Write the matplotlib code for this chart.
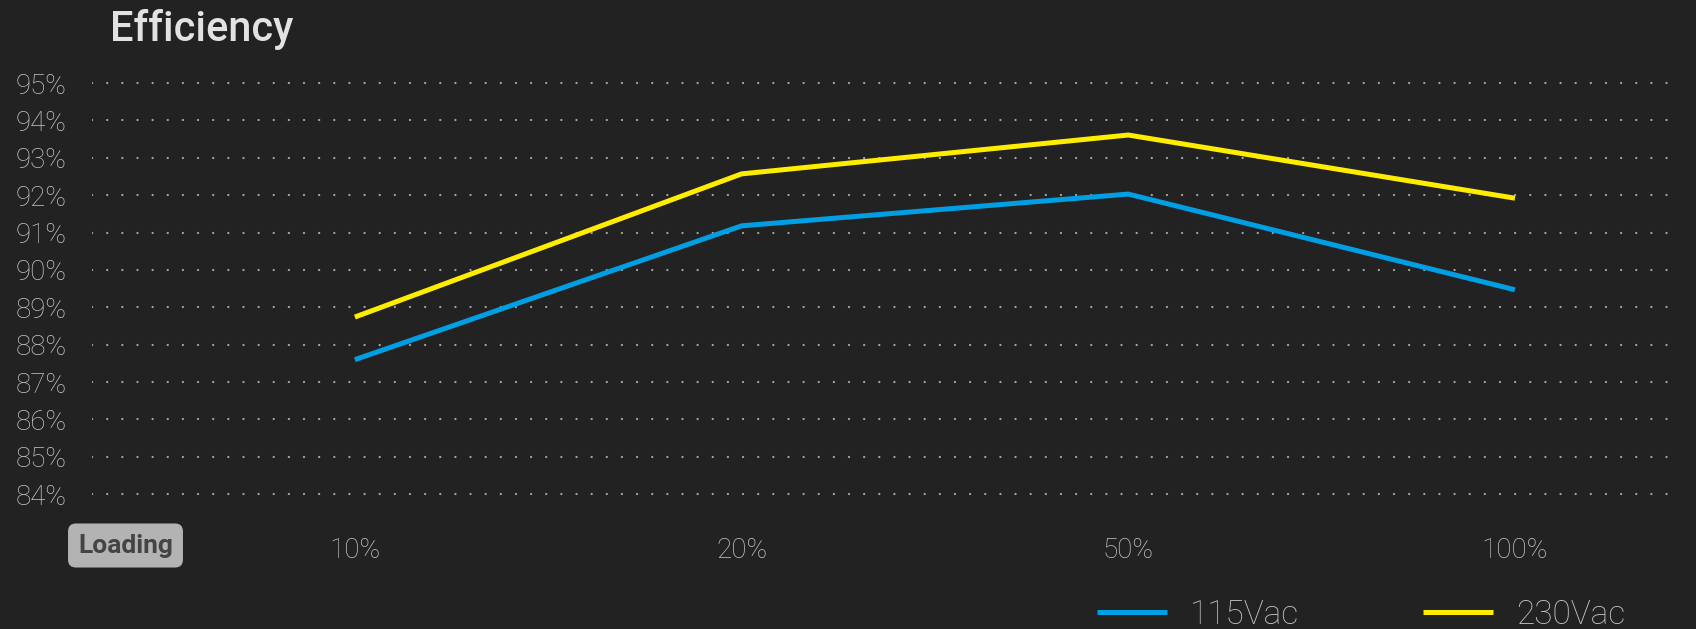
import numpy as np
import matplotlib.pyplot as plt

plt.rcParams['lines.scale_dashes'] = False

loads = ['10%', '20%', '50%', '100%']
eff_115 = [87.6, 91.18, 92.03, 89.47]
eff_230 = [88.74, 92.57, 93.61, 91.92]
y_ticks = list(range(84, 96))

bg = '#222222'
fig = plt.figure(figsize=(16.96, 6.29), dpi=100, facecolor=bg)
ax = fig.add_axes([0.0542, 0.2083, 0.984 - 0.0542, 0.6656], facecolor=bg)

x = np.arange(len(loads))
ax.plot(x, eff_115, color='#009fe3', lw=3.6, label='115Vac', solid_capstyle='butt', zorder=3)
ax.plot(x, eff_230, color='#ffed00', lw=3.6, label='230Vac', solid_capstyle='butt', zorder=3)

ax.set_xlim(-0.68, 3.398)
ax.set_ylim(83.9, 95.1)
ax.set_yticks(y_ticks)
ax.set_yticklabels([f'{v}%' for v in y_ticks])
ax.set_xticks(x)
ax.set_xticklabels(loads)
ax.tick_params(length=0, colors='#c4c4c4', labelsize=20)
ax.tick_params(axis='y', pad=18)
ax.tick_params(axis='x', pad=28)
for lab in ax.get_xticklabels() + ax.get_yticklabels():
    lab.set_family('Roboto')
    lab.set_weight('light')

ax.grid(axis='y', color='#a8a8a8', linestyle=(0, (0.1, 10.8)), linewidth=1.6,
        dash_capstyle='round')
ax.grid(axis='x', visible=False)
for s in ax.spines.values():
    s.set_visible(False)

fig.text(110 / 1696, 1 - 40.7 / 629, 'Efficiency', color='#e2e2e2', fontsize=30,
         family='Roboto', weight='medium', ha='left', va='baseline')

fig.text(125.5 / 1696, 1 - 545.5 / 629, 'Loading', color='#444444', fontsize=19,
         family='Roboto', weight='bold', ha='center', va='center',
         bbox=dict(boxstyle='round,pad=0.38,rounding_size=0.3', fc='#b3b3b3', ec='none'))

leg = fig.legend(loc='center left', bbox_to_anchor=(1097 / 1696, 1 - 615 / 629),
                 ncol=2, frameon=False, handlelength=2.1,
                 handletextpad=0.7, columnspacing=3.7, borderpad=0, borderaxespad=0,
                 prop={'family': 'Roboto', 'weight': 'light', 'size': 24})
for t in leg.get_texts():
    t.set_color('#c4c4c4')

fig.savefig('out.png', dpi=100, facecolor=bg)
